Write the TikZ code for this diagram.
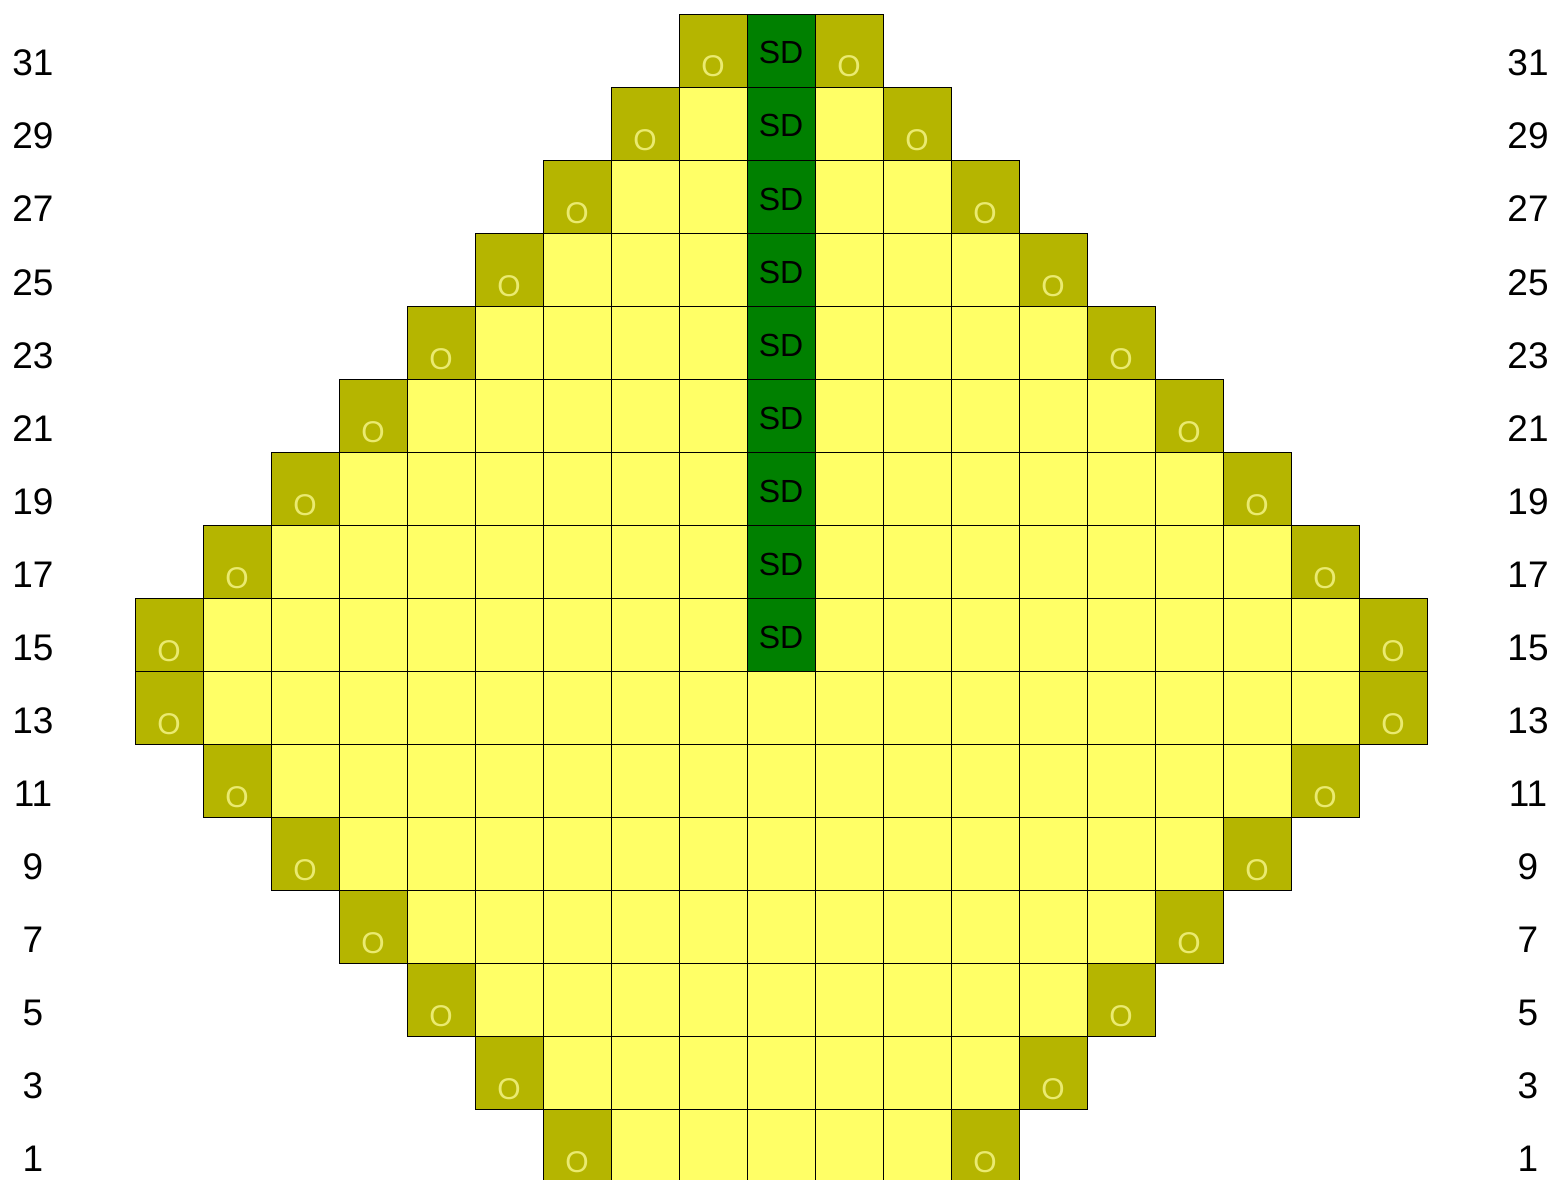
\documentclass[tikz,border=0pt]{standalone}
\usepackage{fontspec}
\setmainfont{Liberation Sans}
\definecolor{cy}{HTML}{FFFF66}
\definecolor{co}{HTML}{B5B500}
\definecolor{cg}{HTML}{008000}
\definecolor{cot}{HTML}{EAEA70}
\begin{document}
\begin{tikzpicture}[x=1pt,y=-1pt,
  cell/.style={draw=black,line width=0.9pt,minimum width=68pt,minimum height=73pt,inner sep=0pt,outer sep=0pt,anchor=north west},
  olabel/.style={anchor=base,text=cot,font=\fontsize{30}{30}\selectfont},
  sdlabel/.style={anchor=base,text=black,font=\fontsize{32}{32}\selectfont},
  rowlabel/.style={anchor=base,text=black,font=\fontsize{37}{37}\selectfont}]
\useasboundingbox (0,0) rectangle (1556,1180);
\foreach \r in {0,...,15}{
  \pgfmathtruncatemacro\lo{\r<=8 ? 8-\r : \r-9}
  \pgfmathtruncatemacro\hi{18-\lo}
  \pgfmathtruncatemacro\lab{31-2*\r}
  \pgfmathsetmacro\ty{14+73*\r}
  \foreach \c in {\lo,...,\hi}{
    \pgfmathsetmacro\tx{135+68*\c}
    \pgfmathtruncatemacro\k{(\c==\lo || \c==\hi) ? 1 : ((\c==9 && \r<9) ? 2 : 0)}
    \ifcase\k
      \node[cell,fill=cy] (c\c-\r) at (\tx,\ty) {};
    \or
      \node[cell,fill=co] (c\c-\r) at (\tx,\ty) {};
      \node[olabel] (o\c-\r) at (\tx+34,\ty+63) {O};
    \or
      \node[cell,fill=cg] (c\c-\r) at (\tx,\ty) {};
      \node[sdlabel] (s\c-\r) at (\tx+34,\ty+50) {SD};
    \fi
  }
  \node[rowlabel] (L\r) at (33,\ty+62) {\lab};
  \node[rowlabel] (R\r) at (1528,\ty+62) {\lab};
}
\end{tikzpicture}
\end{document}
